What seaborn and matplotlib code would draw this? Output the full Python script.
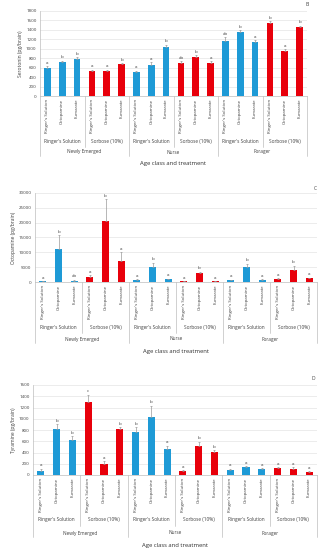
import seaborn as sns
import matplotlib.pyplot as plt
import pandas as pd
import numpy as np

# --- Data ---
ages = ['Newly Emerged', 'Nurse', 'Forager']
treatments = ["Ringer's Solution", 'Sorbose (10%)']
solutions = ["Ringer's Solution", 'Octopamine', 'Fumarate']

serotonin = [590, 720, 780, 520, 520, 670,
             500, 660, 1040, 700, 830, 700,
             1160, 1360, 1140, 1540, 960, 1460]
serotonin_err = [40, 30, 50, 40, 40, 30,
                 40, 50, 50, 40, 30, 40,
                 80, 30, 50, 50, 40, 30]
serotonin_sig = ['a', 'b', 'b', 'a', 'a', 'b',
                 'a', 'a', 'b', 'ab', 'b', 'a',
                 'ab', 'b', 'a', 'b', 'a', 'b']

octopamine = [200, 11000, 500, 1800, 20500, 7000,
              600, 5000, 900, 200, 3000, 200,
              600, 5000, 700, 900, 4000, 1200]
octopamine_err = [100, 4800, 300, 500, 7500, 3000,
                  300, 1500, 200, 100, 500, 100,
                  200, 1200, 200, 300, 1500, 300]
octopamine_sig = ['a', 'b', 'ab', 'a', 'b', 'a',
                  'a', 'b', 'a', 'a', 'b', 'a',
                  'a', 'b', 'a', 'a', 'b', 'a']

tyramine = [80, 820, 620, 1300, 190, 820,
            760, 1030, 470, 70, 510, 410,
            90, 140, 100, 120, 100, 50]
tyramine_err = [30, 80, 70, 130, 60, 30,
                90, 200, 50, 20, 80, 30,
                20, 20, 20, 20, 40, 15]
tyramine_sig = ['a', 'b', 'b', 'c', 'a', 'b',
                'b', 'b', 'a', 'a', 'b', 'b',
                'a', 'a', 'a', 'a', 'a', 'a']

colors = {"Ringer's Solution": '#1E9AD6', 'Sorbose (10%)': '#E8000B'}

rows = []
for a in ages:
    for t in treatments:
        for s in solutions:
            rows.append({'age': a, 'treatment': t, 'solution': s,
                         'key': a + '|' + t + '|' + s})
base = pd.DataFrame(rows)

# --- Style ---
sns.set_style('white')
plt.rcParams['font.family'] = ['Open Sans', 'DejaVu Sans']

W, H = 322, 550
fig = plt.figure(figsize=(W / 100, H / 100), dpi=100)


def panel(rect_px, vals, errs, sig, ymax, ystep, ylabel, letter, letter_pos,
          sub_drop, age_drop):
    left, right, top, zero = rect_px
    ax = fig.add_axes([left / W, 1 - zero / H, (right - left) / W, (zero - top) / H])
    df = base.copy()
    df['value'] = vals
    df['err'] = errs
    sns.barplot(data=df, x='key', y='value', hue='treatment', palette=colors,
                order=list(df['key']), dodge=False, width=0.45, errorbar=None,
                legend=False, ax=ax, linewidth=0, saturation=1)
    x = np.arange(len(df))
    ax.errorbar(x, df['value'], yerr=[np.zeros(len(df)), df['err']], fmt='none',
                ecolor='#9a9a9a', elinewidth=0.5, capsize=0.8, capthick=0.5)
    for i, (v, e, s) in enumerate(zip(df['value'], df['err'], sig)):
        ax.text(i, v + e + ymax * 0.015, s, ha='center', va='bottom',
                fontsize=3.2, color='#404040')
    ax.set_xlim(-0.5, len(df) - 0.5)
    ax.set_ylim(0, ymax)
    ax.set_yticks(np.arange(0, ymax + 1, ystep))
    ax.tick_params(axis='y', labelsize=3.2, length=1.5, width=0.4, pad=1,
                   colors='#404040')
    ax.set_xticks(x)
    ax.set_xticklabels(df['solution'], rotation=90, fontsize=3.2, color='#404040')
    ax.tick_params(axis='x', length=0, pad=2)
    ax.set_xlabel('')
    ax.set_ylabel(ylabel, fontsize=3.6, color='#404040', labelpad=2)
    ax.yaxis.grid(True, color='#e4e4e4', linewidth=0.5)
    ax.set_axisbelow(True)
    for sp in ['top', 'right']:
        ax.spines[sp].set_visible(False)
    for sp in ['left', 'bottom']:
        ax.spines[sp].set_color('#bdbdbd')
        ax.spines[sp].set_linewidth(0.5)

    h = zero - top
    tr = ax.get_xaxis_transform()
    # group separator lines and labels
    for k in range(7):
        xb = k * 3 - 0.5
        drop = age_drop if k % 2 == 0 else sub_drop
        ax.plot([xb, xb], [0, -drop / h], transform=tr, clip_on=False,
                color='#bdbdbd', linewidth=0.5)
    for j in range(6):
        ax.text(j * 3 + 1, -(sub_drop - 6) / h, treatments[j % 2], transform=tr,
                ha='center', va='center', fontsize=3.4, color='#404040')
    for j, a in enumerate(ages):
        ax.text(j * 6 + 2.5, -(age_drop - 4) / h, a, transform=tr,
                ha='center', va='center', fontsize=3.4, color='#404040')
    ax.text(0.5, -(age_drop + 8) / h, 'Age class and treatment', transform=ax.transAxes,
            ha='center', va='center', fontsize=4.2, color='#303030')
    fig.text(letter_pos[0] / W, 1 - letter_pos[1] / H, letter, fontsize=3.6,
             color='#404040', ha='center', va='center')
    return ax


panel((40, 307, 11, 96), serotonin, serotonin_err, serotonin_sig, 1800, 200,
      'Serotonin (pg/brain)', 'B', (307, 4), 51, 60)
panel((35, 317, 193, 282), octopamine, octopamine_err, octopamine_sig, 30000, 5000,
      'Octopamine (pg/brain)', 'C', (315, 188), 51, 61)
panel((33, 317, 385, 475), tyramine, tyramine_err, tyramine_sig, 1600, 200,
      'Tyramine (pg/brain)', 'D', (313, 379), 51, 62)

plt.savefig('out.png', dpi=100)
